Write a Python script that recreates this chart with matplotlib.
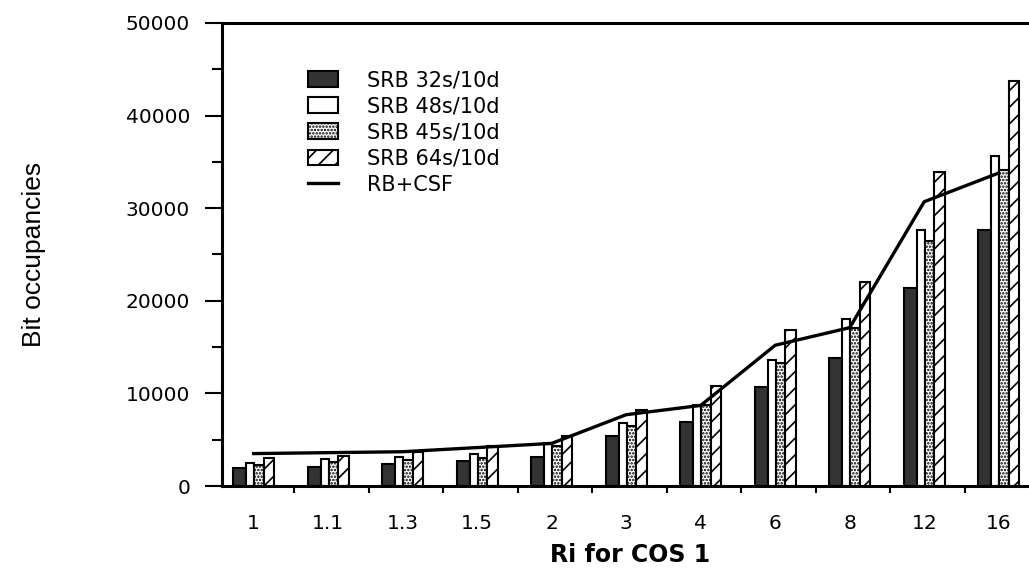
import numpy as np
import matplotlib
matplotlib.use("Agg")
from matplotlib import pyplot as plt

# values
categories = ['1', '1.1', '1.3', '1.5', '2', '3', '4', '6', '8', '12', '16']
srb_32 = [1900, 2100, 2400, 2700, 3150, 5400, 6900, 10700, 13800, 21400, 27600]
srb_48 = [2500, 2900, 3100, 3500, 4600, 6800, 8800, 13600, 18000, 27600, 35600]
srb_45 = [2250, 2550, 2850, 3000, 4300, 6450, 8700, 13250, 17100, 26500, 34100]
srb_64 = [3000, 3250, 3700, 4350, 5350, 8250, 10850, 16850, 22000, 33900, 43700]
rb_csf = [3500, 3600, 3700, 4150, 4600, 7700, 8700, 15200, 17100, 30700, 33800]

plt.rcParams['hatch.linewidth'] = 1.2

fig = plt.figure(figsize=(10.29, 5.83), dpi=100)
ax = fig.add_axes([222 / 1029, 1 - 486 / 583, 807 / 1029, 463 / 583])

x = np.arange(len(categories))
widths = [0.175, 0.11, 0.13, 0.14]
lefts = np.concatenate([[0], np.cumsum(widths)[:-1]])
center = sum(widths) / 2

series = [srb_32, srb_48, srb_45, srb_64]
labels = ['SRB 32s/10d', 'SRB 48s/10d', 'SRB 45s/10d', 'SRB 64s/10d']
faces = ['#333333', 'white', 'white', 'white']
hatches = [None, None, '.....', '//']

handles = []
for vals, lab, w, l, fc, h in zip(series, labels, widths, lefts, faces, hatches):
    b = ax.bar(x + l, vals, width=w, align='edge', color=fc, edgecolor='black',
               linewidth=1.5, hatch=h, label=lab, zorder=2)
    handles.append(b)

ln, = ax.plot(x + center, rb_csf, color='black', linewidth=2.4, label='RB+CSF', zorder=3)
handles.append(ln)

ax.set_xlim(-0.148, -0.148 + 807 / 74.5)
ax.set_ylim(0, 50000)

# y axis
ax.set_yticks(np.arange(0, 50001, 10000))
ax.set_yticks(np.arange(5000, 50000, 10000), minor=True)
ax.tick_params(axis='y', which='major', length=12, width=1.5, pad=11, labelsize=14.5)
ax.tick_params(axis='y', which='minor', length=7, width=1.5)

# x axis: labels at group centres, marks between groups
ax.set_xticks(x + center)
ax.set_xticklabels(categories)
ax.set_xticks(x[:-1] + 0.82, minor=True)
ax.tick_params(axis='x', which='major', length=0, pad=20, labelsize=14.5)
ax.tick_params(axis='x', which='minor', length=5, width=1.5)

for s in ['left', 'bottom', 'top']:
    ax.spines[s].set_linewidth(2.2)
ax.spines['right'].set_visible(False)

ax.set_ylabel('Bit occupancies', fontsize=19, family='Liberation Sans')
ax.yaxis.set_label_coords(-0.218, 0.5)

fig.text(630 / 1029, 1 - 555 / 583, 'Ri for COS 1', fontsize=17, fontweight='bold',
         ha='center', va='center')

ax.legend(handles=handles, labels=labels + ['RB+CSF'],
          loc='upper left', bbox_to_anchor=((308 - 222) / 807, (486 - 70) / 463),
          frameon=False, fontsize=15, borderpad=0, borderaxespad=0,
          handlelength=1.45, handleheight=0.8, handletextpad=1.4, labelspacing=0.3)

plt.savefig('out.png', dpi=100)
